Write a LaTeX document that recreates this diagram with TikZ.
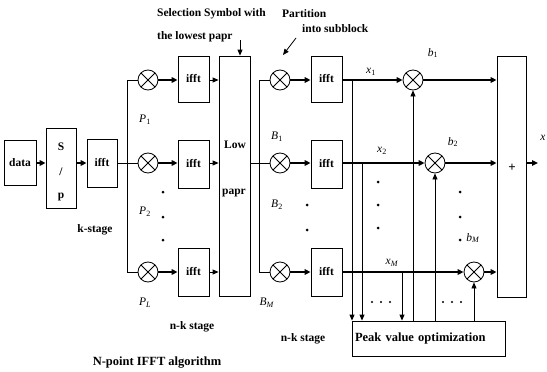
\documentclass[tikz,border=0pt]{standalone}
\usepackage{fontspec}
\setmainfont{Liberation Serif}
\usetikzlibrary{arrows.meta}
\begin{document}
\begin{tikzpicture}[x=1pt,y=-1pt,
  box/.style={draw, line width=0.8pt, inner sep=0pt, font=\bfseries\fontsize{11.5}{13}\selectfont},
  mult/.style={draw, circle, line width=0.8pt, minimum size=20pt, inner sep=0pt,
    path picture={\draw[line width=0.8pt] (path picture bounding box.south west) -- (path picture bounding box.north east)
      (path picture bounding box.north west) -- (path picture bounding box.south east);}},
  arr/.style={line width=1.4pt, -{Triangle[length=6pt,width=5.5pt]}},
  tarr/.style={line width=0.8pt, -{Triangle[length=6pt,width=5pt]}},
  ln/.style={line width=0.8pt},
  lbl/.style={font=\bfseries\fontsize{11.5}{13}\selectfont, inner sep=0pt},
  mlab/.style={font=\fontsize{11.5}{13}\selectfont, inner sep=0pt},
  dot/.style={fill=black}
]
\path[use as bounding box] (0,0) rectangle (547,372);

% ---- section 1 ----
\node[box, minimum width=32pt, minimum height=45pt] (data) at (20,162.5) {data};
\node[box, minimum width=30pt, minimum height=80pt] (sp) at (61,168) {};
\node[lbl] (spS) at (61,147) {S};
\node[lbl] (spSl) at (61,172) {/};
\node[lbl] (spP) at (61,197) {p};
\node[box, minimum width=30pt, minimum height=48pt] (ifft1) at (102,163) {ifft};

\node[mult] (m11) at (148,80) {};
\node[mult] (m12) at (148,163) {};
\node[mult] (m13) at (148,272) {};

\node[box, minimum width=31pt, minimum height=46pt] (f21) at (193.5,79) {ifft};
\node[box, minimum width=31pt, minimum height=48pt] (f22) at (193.5,164) {ifft};
\node[box, minimum width=31pt, minimum height=48pt] (f23) at (193.5,272) {ifft};

\node[box, minimum width=31pt, minimum height=240pt] (low) at (234.5,176) {};
\node[lbl] (lowt) at (235,145) {Low};
\node[lbl] (paprt) at (234,193) {papr};

\coordinate (bus1t) at (127,80);
\coordinate (bus1b) at (127,272);

\draw[arr] (data.east |- m12) -- (sp.west |- m12);
\draw[arr] (sp.east |- m12) -- (ifft1.west |- m12);
\draw[ln] (ifft1.east |- m12) -- (bus1t |- m12);
\draw[ln] (bus1t) -- (bus1b);
\draw[ln] (bus1t) -- (m11.west);
\draw[ln] (bus1t |- m12) -- (m12.west);
\draw[ln] (bus1b) -- (m13.west);

\draw[arr] (m11.east) -- (f21.west |- m11);
\draw[arr] (m12.east) -- (f22.west |- m12);
\draw[arr] (m13.east) -- (f23.west |- m13);
\draw[tarr] (f21.east |- m11) -- (low.west |- m11);
\draw[tarr] (f22.east |- m12) -- (low.west |- m12);
\draw[tarr] (f23.east |- m13) -- (low.west |- m13);

\node[mlab] (P1) at (145,120) {\textit{P}\textsubscript{1}};
\node[mlab] (P2) at (145,212) {\textit{P}\textsubscript{2}};
\node[mlab] (PL) at (145,303) {\textit{P}\textsubscript{\textit{L}}};
\fill[dot] (163,192) circle (1.5) (163,217) circle (1.5) (163,240) circle (1.5);

\node[lbl] (kst) at (95,230) {k-stage};
\node[lbl] (nk1) at (192,327) {n-k stage};
\node[lbl, font=\bfseries\fontsize{12.5}{14}\selectfont] (npt) at (157,363) {N-point IFFT algorithm};

\node[lbl, anchor=west] (sel1) at (157,14) {Selection Symbol with};
\node[lbl, anchor=west] (sel2) at (157,37) {the lowest papr};
\coordinate (selA) at (240,40);
\draw[tarr] (selA) -- (selA |- low.north);

% ---- section 2 ----
\node[mult] (m21) at (280,80) {};
\node[mult] (m22) at (280,163) {};
\node[mult] (m23) at (280,272) {};
\coordinate (bus2t) at (259,80);
\coordinate (bus2b) at (259,272);
\draw[ln] (low.east |- m22) -- (m22.west);
\draw[ln] (bus2t) -- (bus2b);
\draw[ln] (bus2t) -- (m21.west);
\draw[ln] (bus2b) -- (m23.west);

\node[box, minimum width=31pt, minimum height=46pt] (f31) at (326.5,79) {ifft};
\node[box, minimum width=31pt, minimum height=48pt] (f32) at (326.5,164) {ifft};
\node[box, minimum width=31pt, minimum height=48pt] (f33) at (326.5,272) {ifft};
\draw[arr] (m21.east) -- (f31.west |- m21);
\draw[arr] (m22.east) -- (f32.west |- m22);
\draw[arr] (m23.east) -- (f33.west |- m23);

\node[lbl, anchor=west] (part1) at (282,14) {Partition};
\node[lbl, anchor=west] (part2) at (302,29) {into subblock};
\coordinate (partA) at (296,38);
\coordinate (partB) at (283,55);
\draw[tarr] (partA) -- (partB);

\node[mlab] (B1) at (277,137) {\textit{B}\textsubscript{1}};
\node[mlab] (B2) at (277,205) {\textit{B}\textsubscript{2}};
\node[mlab] (BM) at (267,303) {\textit{B}\textsubscript{\textit{M}}};
\fill[dot] (307,205) circle (1.5) (307,230) circle (1.5);
\node[lbl] (nk2) at (303,339) {n-k stage};

% ---- section 3 ----
\node[mult] (bm1) at (413,80) {};
\node[mult] (bm2) at (435,163) {};
\node[mult] (bm3) at (474,272) {};
\node[box, minimum width=29pt, minimum height=241pt] (sum) at (511.5,176.5) {};
\node[lbl, font=\bfseries\fontsize{13}{14}\selectfont] (plus) at (512,168) {+};
\node[box, minimum height=35pt, text width=147pt, inner xsep=3pt, align=left, font=\bfseries\fontsize{12.5}{14}\selectfont] (peak) at (428.5,338.5) {Peak value optimization};

\draw[arr] (f31.east |- m21) -- (bm1.west);
\draw[arr] (f32.east |- m22) -- (bm2.west);
\draw[arr] (f33.east |- m23) -- (bm3.west);

\coordinate (t1) at (352,80);
\coordinate (t2) at (362,163);
\coordinate (t3) at (402,272);
\draw[tarr] (t1) -- (t1 |- peak.north);
\draw[tarr] (t2) -- (t2 |- peak.north);
\draw[tarr] (t3) -- (t3 |- peak.north);
\draw[tarr] (bm1 |- peak.north) -- (bm1.south);
\draw[tarr] (bm2 |- peak.north) -- (bm2.south);
\draw[tarr] (bm3 |- peak.north) -- (bm3.south);

\draw[arr] (bm1.east) -- (sum.west |- bm1);
\draw[arr] (bm2.east) -- (sum.west |- bm2);
\draw[arr] (bm3.east) -- (sum.west |- bm3);
\coordinate (xout) at (538,163);
\draw[arr] (sum.east |- bm2) -- (xout);
\node[mlab] (xl) at (543,138) {\textit{x}};

\node[mlab] (x1) at (371,72) {\textit{x}\textsubscript{1}};
\node[mlab] (x2) at (382,151) {\textit{x}\textsubscript{2}};
\node[mlab] (xM) at (392,263) {\textit{x}\textsubscript{\textit{M}}};
\node[mlab] (b1) at (433,53) {\textit{b}\textsubscript{1}};
\node[mlab] (b2) at (453,142) {\textit{b}\textsubscript{2}};
\node[mlab] (bM) at (473,238) {\textit{b}\textsubscript{\textit{M}}};
\fill[dot] (378,182) circle (1.5) (378,205) circle (1.5) (378,228) circle (1.5);
\fill[dot] (460,192) circle (1.5) (460,217) circle (1.5) (460,240) circle (1.5);
\fill[dot] (372,302) circle (1.2) (381,302) circle (1.2) (390,302) circle (1.2);
\fill[dot] (443,302) circle (1.2) (452,302) circle (1.2) (461,302) circle (1.2);
\end{tikzpicture}
\end{document}
